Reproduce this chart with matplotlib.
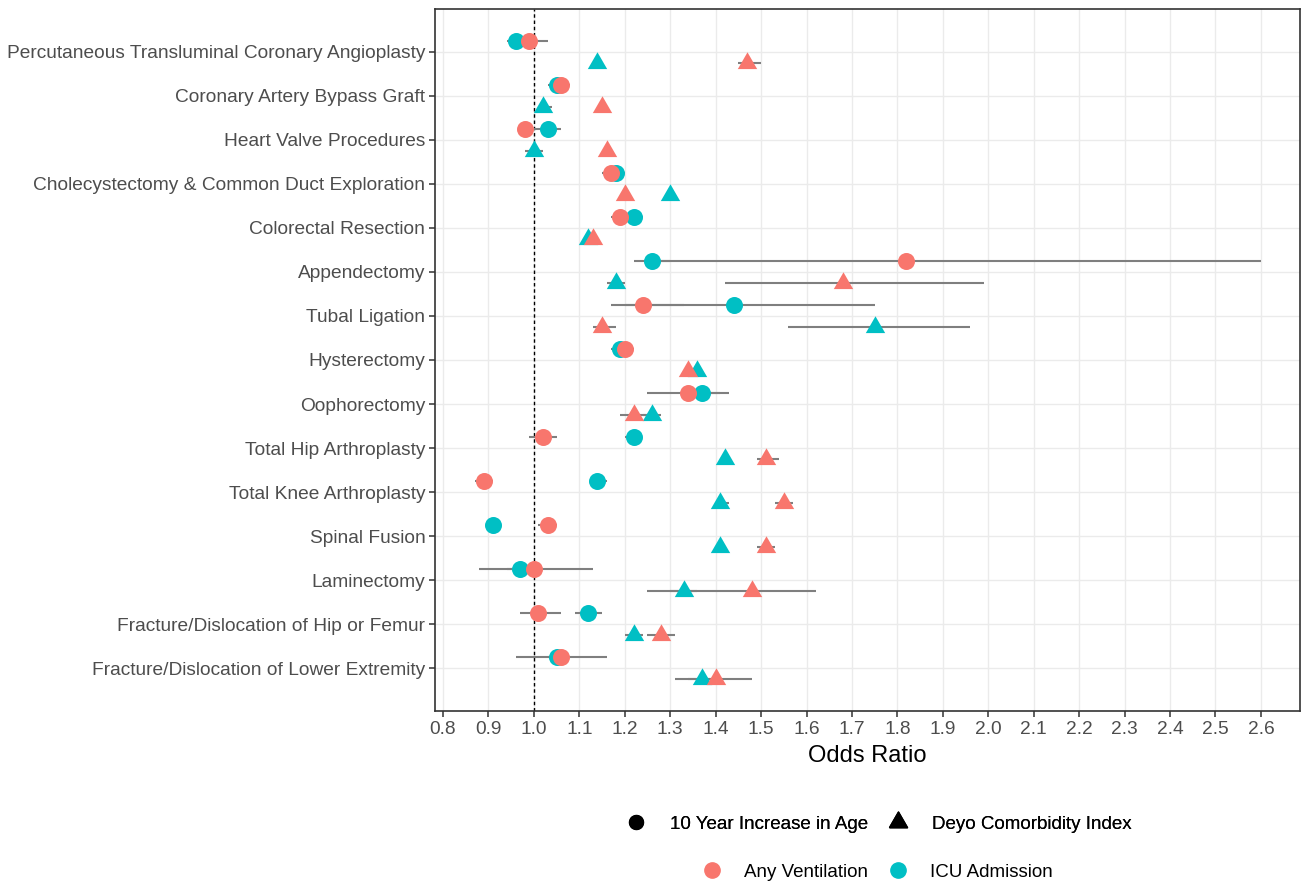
import numpy as np
import matplotlib
matplotlib.use("Agg")
import matplotlib.pyplot as plt
from matplotlib.lines import Line2D

# -----------------------------
# Data
# -----------------------------
procedures = [
    "Percutaneous Transluminal Coronary Angioplasty",
    "Coronary Artery Bypass Graft",
    "Heart Valve Procedures",
    "Cholecystectomy & Common Duct Exploration",
    "Colorectal Resection",
    "Appendectomy",
    "Tubal Ligation",
    "Hysterectomy",
    "Oophorectomy",
    "Total Hip Arthroplasty",
    "Total Knee Arthroplasty",
    "Spinal Fusion",
    "Laminectomy",
    "Fracture/Dislocation of Hip or Femur",
    "Fracture/Dislocation of Lower Extremity",
]

# 10 year increase in age (circles)
vent_age = [0.99, 1.06, 0.98, 1.17, 1.19, 1.82, 1.24, 1.20, 1.34, 1.02, 0.89, 1.03, 1.00, 1.01, 1.06]
vent_age_lo = [0.95, 1.04, 0.97, 1.15, 1.17, 1.27, 1.17, 1.18, 1.25, 0.99, 0.87, 1.01, 0.88, 0.97, 0.96]
vent_age_hi = [1.03, 1.08, 0.99, 1.19, 1.21, 2.60, 1.33, 1.22, 1.43, 1.05, 0.91, 1.05, 1.13, 1.06, 1.16]

icu_age = [0.96, 1.05, 1.03, 1.18, 1.22, 1.26, 1.44, 1.19, 1.37, 1.22, 1.14, 0.91, 0.97, 1.12, 1.05]
icu_age_lo = [0.94, 1.03, 1.00, 1.15, 1.20, 1.22, 1.20, 1.17, 1.33, 1.20, 1.13, 0.90, 0.94, 1.09, 1.03]
icu_age_hi = [0.98, 1.06, 1.06, 1.20, 1.24, 1.30, 1.75, 1.21, 1.41, 1.23, 1.16, 0.92, 1.00, 1.15, 1.07]

# Deyo comorbidity index (triangles)
vent_deyo = [1.47, 1.15, 1.16, 1.20, 1.13, 1.68, 1.15, 1.34, 1.22, 1.51, 1.55, 1.51, 1.48, 1.28, 1.40]
vent_deyo_lo = [1.45, 1.14, 1.15, 1.19, 1.12, 1.42, 1.13, 1.33, 1.19, 1.49, 1.53, 1.49, 1.25, 1.25, 1.31]
vent_deyo_hi = [1.50, 1.16, 1.17, 1.21, 1.14, 1.99, 1.18, 1.35, 1.25, 1.54, 1.57, 1.53, 1.62, 1.31, 1.48]

icu_deyo = [1.14, 1.02, 1.00, 1.30, 1.12, 1.18, 1.75, 1.36, 1.26, 1.42, 1.41, 1.41, 1.33, 1.22, 1.37]
icu_deyo_lo = [1.13, 1.01, 0.98, 1.29, 1.11, 1.16, 1.56, 1.35, 1.24, 1.41, 1.40, 1.40, 1.30, 1.20, 1.34]
icu_deyo_hi = [1.15, 1.04, 1.02, 1.31, 1.13, 1.20, 1.96, 1.37, 1.28, 1.43, 1.43, 1.42, 1.36, 1.24, 1.40]

x_ticks = [0.8, 0.9, 1.0, 1.1, 1.2, 1.3, 1.4, 1.5, 1.6, 1.7, 1.8, 1.9, 2.0, 2.1, 2.2, 2.3, 2.4, 2.5, 2.6]

# -----------------------------
# Style
# -----------------------------
RED = "#F8766D"
TEAL = "#00BFC4"
BAR_GRAY = "#7F7F7F"
DODGE = 0.25

plt.rcParams["font.family"] = ["Liberation Sans", "DejaVu Sans"]

# equilateral triangle like ggplot shape 17
TRI = [(-1.0, -0.577), (1.0, -0.577), (0.0, 1.155), (-1.0, -0.577)]


def main():
    fig = plt.figure(figsize=(13.03, 8.85), dpi=100)
    ax = fig.add_axes([435 / 1303, 1 - 711 / 885, 865 / 1303, 702 / 885])

    y = np.arange(1, len(procedures) + 1)
    y_age = y - DODGE
    y_deyo = y + DODGE

    # error bars
    for yy, lo, hi in [
        (y_age, icu_age_lo, icu_age_hi),
        (y_age, vent_age_lo, vent_age_hi),
        (y_deyo, icu_deyo_lo, icu_deyo_hi),
        (y_deyo, vent_deyo_lo, vent_deyo_hi),
    ]:
        ax.hlines(yy, lo, hi, color=BAR_GRAY, linewidth=1.5, zorder=3)

    # points
    ax.scatter(icu_age, y_age, s=150, color=TEAL, marker="o", linewidths=0, zorder=4)
    ax.scatter(vent_age, y_age, s=150, color=RED, marker="o", linewidths=0, zorder=5)
    ax.scatter(icu_deyo, y_deyo, s=260, color=TEAL, marker=TRI, linewidths=0, zorder=4)
    ax.scatter(vent_deyo, y_deyo, s=260, color=RED, marker=TRI, linewidths=0, zorder=5)

    ax.axvline(1.0, color="black", linestyle=(0, (2.5, 2)), linewidth=1.0, zorder=2)

    ax.set_xlim(0.8 - 8 / 454.4, 0.8 + 857 / 454.4)
    ax.set_ylim(len(procedures) + 0.965, 0.035)

    ax.set_xticks(x_ticks)
    ax.set_xticklabels([f"{v:.1f}" for v in x_ticks])
    ax.set_yticks(y)
    ax.set_yticklabels(procedures)

    ax.grid(True, color="#EBEBEB", linewidth=1.0, zorder=0)
    ax.set_axisbelow(True)
    for sp in ax.spines.values():
        sp.set_color("#333333")
        sp.set_linewidth(1.2)
    ax.tick_params(axis="both", colors="#333333", length=4, width=1.1,
                   labelcolor="#4D4D4D", labelsize=13.8, pad=3)

    ax.set_xlabel("Odds Ratio", fontsize=17, color="black", labelpad=5)

    # legends
    shape_handles = [
        Line2D([], [], linestyle="none", marker="o", markersize=10,
               color="black", label="10 Year Increase in Age"),
        Line2D([], [], linestyle="none", marker=TRI, markersize=15,
               color="black", label="Deyo Comorbidity Index"),
    ]
    color_handles = [
        Line2D([], [], linestyle="none", marker="o", markersize=11,
               color=RED, label="Any Ventilation"),
        Line2D([], [], linestyle="none", marker="o", markersize=11,
               color=TEAL, label="ICU Admission"),
    ]
    leg1 = fig.legend(handles=shape_handles, ncol=2, frameon=False, fontsize=13.5,
                      loc="center", bbox_to_anchor=(878 / 1303, 1 - 824 / 885),
                      handletextpad=1.2, columnspacing=1.0, handlelength=1.2)
    fig.add_artist(leg1)
    fig.legend(handles=color_handles, ncol=2, frameon=False, fontsize=13.5,
               loc="center", bbox_to_anchor=(877 / 1303, 1 - 872 / 885),
               handletextpad=1.1, columnspacing=1.0, handlelength=1.2)

    fig.savefig("out.png", dpi=100)
    plt.close(fig)


if __name__ == "__main__":
    main()
